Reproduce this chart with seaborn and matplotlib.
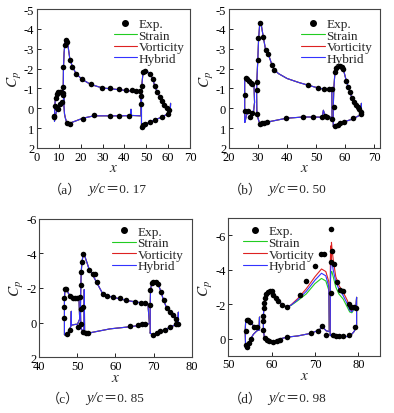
import numpy as np
import pandas as pd
import seaborn as sns
import matplotlib.pyplot as plt
from matplotlib.lines import Line2D

sns.set_style('ticks')
plt.rcParams['font.family'] = ['Liberation Serif', 'Noto Sans CJK SC']
plt.rcParams['mathtext.fontset'] = 'stix'
plt.rcParams['axes.unicode_minus'] = False

GREEN = '#22cc22'
RED = '#dd2222'
BLUE = '#3333ff'

# ---------------- (a) y/c = 0.17 ----------------
a_exp_x = [7.8, 8.0, 8.4, 8.6, 9.1, 9.7, 10.4, 11.1, 11.9, 9.3, 9.8, 10.6, 11.3,
           12.0, 12.0, 12.1, 12.8, 13.3, 13.9, 15.1, 16.2, 17.7, 20.4, 24.6, 29.9, 33.6, 37.5, 40.5, 43.5, 45.5, 47.2,
           13.6, 15.1, 21.2, 26.2, 33.4, 37.5, 42.0,
           47.6, 47.7, 47.9, 48.5, 49.3, 51.7, 52.9, 53.9, 55.0, 56.3, 57.2, 58.2, 59.3, 60.4,
           48.0, 48.6, 49.5, 51.7, 54.0, 57.0, 59.8]
a_exp_cp = [0.45, 0.38, -0.1, -0.5, -0.72, -0.8, -0.84, -0.84, -0.76, -0.02, 0.05, -0.2, -0.3,
            -2.09, -1.08, -0.69, -3.19, -3.44, -3.33, -2.43, -2.09, -1.75, -1.45, -1.2, -1.02, -1.02, -0.97, -0.92, -0.9, -0.88, -0.88,
            0.73, 0.77, 0.52, 0.36, 0.38, 0.38, 0.38,
            -0.22, -0.64, -1.14, -1.85, -1.88, -1.72, -1.5, -1.12, -0.82, -0.57, -0.35, -0.15, 0.0, 0.1,
            0.92, 0.85, 0.8, 0.68, 0.58, 0.45, 0.27]
a_slat_x = [8.0, 8.1, 8.4, 9.0, 9.8, 10.6, 11.4, 12.0, 12.4, 12.6, 11.8, 11.2, 10.5, 9.8, 9.0, 8.4, 8.0]
a_slat_cp = [0.65, 0.0, -0.5, -0.75, -0.85, -0.87, -0.82, -0.7, -0.5, -0.2, -0.3, -0.15, -0.1, 0.05, 0.15, 0.35, 0.65]
a_main_x = [12.6, 12.2, 12.0, 12.1, 12.4, 12.8, 13.2, 13.6, 14.0, 15.0, 16.2, 17.7, 20.4, 24.6, 30.0, 34.0, 38.0,
            42.0, 45.0, 47.4, 47.6, 47.4, 43.2, 43.0, 42.8, 38.0, 33.0, 26.0, 21.0, 15.0, 13.6, 13.0, 12.6]
a_main_cp = [0.3, -0.3, -1.0, -2.0, -2.8, -3.3, -3.5, -3.45, -3.3, -2.5, -2.1, -1.78, -1.47, -1.2, -1.02, -0.98, -0.93,
             -0.88, -0.85, -0.85, 0.35, 0.38, 0.36, 0.05, 0.37, 0.38, 0.38, 0.38, 0.5, 0.75, 0.72, 0.5, 0.3]
a_flap_x = [47.8, 47.8, 48.0, 48.5, 49.5, 50.5, 51.7, 52.9, 53.9, 55.0, 56.3, 57.2, 58.2, 59.3, 60.4, 61.0, 61.1,
            61.0, 59.8, 57.0, 54.0, 51.7, 49.5, 48.2, 47.8]
a_flap_cp = [0.95, -0.3, -1.2, -1.8, -1.9, -1.85, -1.72, -1.5, -1.12, -0.82, -0.57, -0.36, -0.16, 0.0, 0.1, 0.15, -0.25,
             0.18, 0.28, 0.45, 0.58, 0.68, 0.82, 0.93, 0.95]

# ---------------- (b) y/c = 0.50 ----------------
b_exp_x = [25.5, 25.7, 26.3, 27.0, 27.6, 28.0, 25.5, 26.6, 27.2, 28.0,
           29.5, 29.5, 29.8, 29.9, 30.1, 30.7, 31.8, 32.6, 33.5, 34.7, 35.5, 47.3, 50.8, 52.8, 54.5, 55.4,
           30.7, 31.2, 32.0, 33.0, 39.8, 45.6, 49.0, 52.1, 53.1, 53.9, 55.4,
           56.0, 56.5, 57.0, 57.6, 58.2, 58.8, 59.4, 60.4, 61.1, 61.7, 62.3, 63.0, 63.6, 64.3, 64.9, 65.4,
           56.5, 57.4, 58.3, 59.7, 62.8, 65.5]
b_exp_cp = [-0.68, -1.55, -1.45, -1.36, -1.28, -1.22, 0.15, 0.14, 0.42, 0.24,
            -1.3, -0.92, 0.28, -2.44, -3.53, -4.3, -3.58, -2.92, -2.74, -2.2, -1.95, -1.15, -1.02, -0.96, -0.95, -0.95,
            0.8, 0.76, 0.74, 0.68, 0.47, 0.44, 0.44, 0.45, 0.37, 0.45, 0.52,
            -0.05, -1.85, -2.05, -2.12, -2.12, -2.1, -1.98, -1.36, -1.05, -0.8, -0.53, -0.3, -0.18, -0.08, 0.02, 0.2,
            0.9, 0.84, 0.75, 0.68, 0.48, 0.3]
b_slat_x = [25.4, 25.4, 25.7, 26.3, 27.0, 27.6, 28.2, 28.6, 28.8, 28.4, 27.8, 27.3, 26.6, 26.0, 25.5, 25.4]
b_slat_cp = [0.7, -1.5, -1.55, -1.45, -1.36, -1.28, -1.22, -1.2, -0.3, 0.25, 0.3, 0.2, 0.2, 0.35, 0.7, 0.7]
b_main_x = [29.6, 29.5, 29.6, 29.9, 30.2, 30.6, 31.0, 31.8, 32.6, 33.5, 34.7, 35.5, 37.0, 40.0, 44.0, 47.3, 50.8,
            52.8, 54.5, 55.4, 55.5, 53.9, 53.1, 52.5, 52.1, 49.0, 45.6, 39.8, 33.0, 32.0, 31.2, 30.7, 30.2, 29.6]
b_main_cp = [0.3, -0.9, -1.4, -2.4, -3.5, -4.3, -4.3, -3.6, -2.95, -2.75, -2.22, -1.97, -1.75, -1.5, -1.3, -1.16, -1.02,
             -0.96, -0.95, -0.95, 0.45, 0.45, 0.38, 0.1, 0.45, 0.44, 0.44, 0.5, 0.7, 0.76, 0.8, 0.82, 0.6, 0.3]
b_flap_x = [55.9, 55.9, 56.1, 56.5, 57.0, 57.6, 58.4, 59.0, 59.4, 60.4, 61.1, 61.7, 62.3, 63.0, 63.6, 64.3, 64.9,
            65.5, 65.6, 65.6, 65.4, 62.6, 59.7, 58.3, 57.4, 56.5, 55.9]
b_flap_cp = [0.9, 0.0, -1.0, -1.85, -2.05, -2.12, -2.13, -2.08, -1.95, -1.38, -1.05, -0.8, -0.53, -0.3, -0.18, -0.08, 0.02,
             0.12, -0.25, 0.25, 0.32, 0.54, 0.68, 0.76, 0.84, 0.9, 0.9]

# ---------------- (c) y/c = 0.85 ----------------
c_exp_x = [46.7, 47.1, 46.6, 46.6, 46.6, 47.2, 48.1, 48.8, 49.4, 49.8, 48.1, 50.1,
           50.7, 50.9, 50.9, 51.5, 50.9, 50.9, 51.2, 51.5, 53.1, 54.0, 54.6, 55.1, 56.6, 57.7, 59.4, 61.2, 62.8, 65.1, 66.7, 67.7,
           51.5, 52.3, 52.9, 63.8, 66.0, 66.9, 67.7,
           69.1, 69.1, 69.5, 69.9, 70.6, 71.2, 71.9, 72.6, 73.4, 74.3, 75.2, 75.8, 76.3,
           69.8, 70.8, 71.7, 73.0, 74.3, 75.8]
c_exp_cp = [-1.91, -1.91, -1.39, -0.91, -0.27, 0.65, -1.55, -1.43, -1.39, -1.39, 0.45, 0.26,
            -1.49, -0.81, 0.06, -0.91, -2.16, -2.94, -3.52, -3.95, -3.03, -2.8, -2.78, -2.32, -1.64, -1.55, -1.45, -1.39, -1.29, -1.2, -1.14, -1.14,
            0.55, 0.6, 0.6, 0.19, 0.16, 0.08, 0.08,
            -1.0, -1.87, -2.26, -2.32, -2.36, -2.2, -1.78, -1.29, -0.85, -0.62, -0.46, -0.23, 0.06,
            0.7, 0.59, 0.51, 0.4, 0.26, 0.1]
c_slat_x = [46.6, 46.6, 46.7, 47.1, 47.6, 48.1, 48.8, 49.4, 50.0, 50.4, 50.6, 50.0, 49.5, 48.4, 48.4, 48.3, 47.6, 47.2, 46.6]
c_slat_cp = [0.7, -1.2, -1.9, -1.95, -1.7, -1.55, -1.43, -1.39, -1.38, -1.4, -0.2, 0.1, 0.1, 0.15, -0.65, 0.2, 0.55, 0.65, 0.7]
c_main_x = [50.9, 50.8, 50.9, 51.0, 51.2, 51.5, 51.9, 52.6, 53.1, 54.0, 55.1, 56.6, 57.7, 59.4, 61.2, 62.8, 65.1, 66.7,
            68.5, 68.9, 66.0, 63.8, 58.6, 53.0, 52.3, 51.9, 51.8, 51.7, 51.4, 50.9]
c_main_cp = [0.3, -0.8, -2.1, -2.9, -3.5, -3.9, -3.85, -3.4, -3.05, -2.75, -2.3, -1.68, -1.56, -1.45, -1.37, -1.28, -1.2, -1.14,
             -1.1, 0.06, 0.17, 0.24, 0.36, 0.6, 0.62, 0.62, -1.9, 0.55, 0.5, 0.3]
c_flap_x = [69.1, 69.1, 69.2, 69.5, 69.9, 70.6, 71.2, 71.9, 72.6, 73.4, 74.3, 75.2, 75.8, 76.4, 76.5, 76.5, 75.8, 74.3,
            73.0, 71.7, 70.8, 69.8, 69.1]
c_flap_cp = [0.6, -1.0, -1.9, -2.25, -2.33, -2.38, -2.22, -1.8, -1.3, -0.86, -0.62, -0.46, -0.25, 0.0, -0.6, 0.1, 0.12, 0.27,
             0.4, 0.52, 0.6, 0.72, 0.6]

# ---------------- (d) y/c = 0.98 ----------------
d_exp_x = [54.0, 54.2, 54.6, 55.0, 54.0, 54.2, 54.8, 55.2, 56.0, 56.6,
           58.1, 58.1, 58.1, 58.2, 58.3, 58.5, 58.7, 59.2, 59.6, 60.0, 60.4, 61.0, 61.5, 62.5, 63.5, 66.6, 68.0, 70.0, 71.4, 72.1,
           58.5, 58.9, 59.5, 60.4, 61.3, 62.0, 63.5, 69.0, 70.8, 71.6, 72.5,
           73.7, 74.0, 73.6, 74.3, 73.8, 75.1, 75.8, 76.5, 77.8, 78.4, 79.1, 79.5,
           74.2, 74.8, 75.6, 76.5, 77.9, 79.3]
d_exp_cp = [-0.46, -1.05, -1.05, -0.95, 0.35, 0.5, 0.25, 0.04, -0.67, -0.66,
            -0.52, -1.0, -1.29, -1.77, -2.06, -2.35, -2.58, -2.73, -2.79, -2.75, -2.54, -2.35, -2.19, -1.98, -1.83, -2.56, -3.33, -4.2, -4.9, -4.9,
            -0.04, 0.08, 0.15, 0.2, 0.17, 0.1, -0.1, -0.33, -0.45, -0.72, -0.23,
            -6.38, -5.1, -4.45, -4.35, -2.64, -3.3, -2.85, -2.77, -2.0, -1.84, -1.82, -1.77,
            -0.2, -0.17, -0.14, -0.13, -0.2, -0.67]
d_slat_x = [54.0, 53.9, 54.0, 54.3, 54.7, 55.2, 56.0, 56.8, 57.1, 57.2, 57.2, 56.6, 55.8, 55.2, 54.6, 54.2, 54.0]
d_slat_cp = [0.55, -0.4, -1.0, -1.1, -1.05, -0.9, -0.7, -0.63, -0.62, -1.25, -0.5, -0.45, -0.25, 0.0, 0.3, 0.5, 0.55]
d_main_x = [58.1, 58.1, 58.2, 58.4, 58.7, 59.2, 59.6, 60.0, 60.5, 61.0, 61.5, 62.5, 63.5, 64.5, 66.0, 68.0, 70.0, 71.5,
            72.5, 73.2, 73.3, 72.6, 72.0, 71.6, 70.5, 69.0, 66.0, 63.5, 61.5, 60.4, 59.5, 58.8, 58.3, 58.1]
d_main_hybrid = [-0.5, -1.3, -1.8, -2.3, -2.6, -2.75, -2.8, -2.76, -2.55, -2.36, -2.2, -1.98, -1.82, -1.95, -2.25, -2.75,
                 -3.4, -3.8, -3.65, -3.0, -0.4, -0.45, -0.6, -0.62, -0.45, -0.3, -0.15, -0.08, 0.05, 0.18, 0.15, 0.05, -0.1, -0.5]
d_main_vorticity = [-0.5, -1.3, -1.8, -2.3, -2.6, -2.75, -2.8, -2.76, -2.55, -2.36, -2.2, -1.98, -1.82, -1.97, -2.32, -2.9,
                    -3.6, -4.05, -3.9, -3.3, -0.4, -0.45, -0.6, -0.62, -0.45, -0.3, -0.15, -0.08, 0.05, 0.18, 0.15, 0.05, -0.1, -0.5]
d_main_strain = [-0.5, -1.3, -1.8, -2.3, -2.6, -2.75, -2.8, -2.76, -2.55, -2.36, -2.2, -1.98, -1.82, -1.93, -2.2, -2.6,
                 -3.2, -3.5, -3.35, -2.8, -0.4, -0.45, -0.6, -0.62, -0.45, -0.3, -0.15, -0.08, 0.05, 0.18, 0.15, 0.05, -0.1, -0.5]
d_flap_x = [73.5, 73.55, 73.6, 73.65, 73.7, 73.75, 73.8, 73.9, 74.2, 74.8, 75.5, 76.5, 77.5, 78.0, 78.5, 79.0, 79.4,
            79.6, 79.6, 79.0, 78.3, 77.5, 76.5, 75.5, 74.5, 73.8, 73.5]
d_flap_hybrid = [-0.2, -3.2, -3.9, -4.1, -4.3, -4.4, -4.45, -4.5, -4.0, -3.3, -2.9, -2.5, -2.0, -1.65, -1.55, -1.75, -1.7,
                 -2.4, -0.7, -0.4, -0.2, -0.12, -0.1, -0.12, -0.15, -0.15, -0.2]
d_flap_vorticity = [-0.2, -4.4, -5.2, -4.4, -5.4, -4.5, -5.6, -5.3, -4.6, -3.6, -3.1, -2.7, -2.2, -1.8, -1.6, -1.8, -1.75,
                    -2.4, -0.7, -0.4, -0.2, -0.12, -0.1, -0.12, -0.15, -0.15, -0.2]
d_flap_strain = [-0.2, -3.0, -3.5, -3.7, -3.8, -3.85, -3.9, -3.9, -3.6, -3.0, -2.6, -2.3, -1.8, -1.55, -1.5, -1.7, -1.7,
                 -2.4, -0.7, -0.4, -0.2, -0.12, -0.1, -0.12, -0.15, -0.15, -0.2]

panel_tags = ['（a）', '（b）', '（c）', '（d）']
panel_values = ['＝0. 17', '＝0. 50', '＝0. 85', '＝0. 98']

fig = plt.figure(figsize=(3.94, 4.14), dpi=100)
W, H = 394, 414


def add_axes(left, top, right, bottom):
    return fig.add_axes([left / W, 1 - bottom / H, (right - left) / W, (bottom - top) / H])


def caption(x0, y0, tag, value):
    # (tag) y/c = value, in three pieces so y/c can be italic
    fig.text(x0 / W, 1 - y0 / H, tag, ha='left', va='center', fontsize=9.5,
             family=['Liberation Serif', 'Noto Sans CJK SC'])
    fig.text((x0 + 39) / W, 1 - y0 / H, 'y/c', ha='left', va='center', fontsize=10.5,
             style='italic', family='Liberation Serif')
    fig.text((x0 + 57) / W, 1 - y0 / H, value, ha='left', va='center', fontsize=9.5,
             family=['Liberation Serif', 'Noto Sans CJK SC'])


def draw(ax, exp_x, exp_cp, curves, xlim, ylim, xticks, yticks, leg_xy):
    # curves: list of (x, strain, vorticity, hybrid)
    for x, s, v, h in curves:
        sns.lineplot(x=x, y=s, sort=False, estimator=None, color=GREEN, lw=0.8, ax=ax)
        sns.lineplot(x=x, y=v, sort=False, estimator=None, color=RED, lw=0.8, ax=ax)
        sns.lineplot(x=x, y=h, sort=False, estimator=None, color=BLUE, lw=0.8, ax=ax)
    sns.scatterplot(x=exp_x, y=exp_cp, color='black', s=16, linewidth=0, ax=ax, zorder=5)
    ax.set_xlim(*xlim)
    ax.set_ylim(*ylim)
    ax.set_xticks(xticks)
    ax.set_yticks(yticks)
    ax.tick_params(direction='in', length=3, width=0.6, labelsize=9, pad=2, colors='black')
    for sp in ax.spines.values():
        sp.set_color('#444444')
        sp.set_linewidth(0.8)
    ax.set_xlabel('$x$', fontsize=11, labelpad=-1)
    ax.set_ylabel('$C_p$', fontsize=11, labelpad=0)
    handles = [Line2D([], [], marker='o', color='black', ls='none', markersize=4),
               Line2D([], [], color=GREEN, lw=0.8),
               Line2D([], [], color=RED, lw=0.8),
               Line2D([], [], color=BLUE, lw=0.8)]
    ax.legend(handles, ['Exp.', 'Strain', 'Vorticity', 'Hybrid'], loc='upper left',
              bbox_to_anchor=leg_xy, frameon=False, fontsize=9.5, handlelength=1.75,
              handletextpad=0.15, labelspacing=-0.05, borderpad=0, borderaxespad=0)


ax_a = add_axes(37, 10, 190, 149)
draw(ax_a, a_exp_x, a_exp_cp,
     [(a_slat_x, a_slat_cp, a_slat_cp, a_slat_cp),
      (a_main_x, a_main_cp, a_main_cp, a_main_cp),
      (a_flap_x, a_flap_cp, a_flap_cp, a_flap_cp)],
     (0, 70), (2, -5), range(0, 71, 10), range(-5, 3), (0.50, 0.935))
caption(49, 190, panel_tags[0], panel_values[0])

ax_b = add_axes(229, 10, 380, 149)
draw(ax_b, b_exp_x, b_exp_cp,
     [(b_slat_x, b_slat_cp, b_slat_cp, b_slat_cp),
      (b_main_x, b_main_cp, b_main_cp, b_main_cp),
      (b_flap_x, b_flap_cp, b_flap_cp, b_flap_cp)],
     (20, 72), (2, -5), range(20, 71, 10), range(-5, 3), (0.48, 0.935))
caption(229, 190, panel_tags[1], panel_values[1])

ax_c = add_axes(39.3, 219.5, 191.7, 358.3)
draw(ax_c, c_exp_x, c_exp_cp,
     [(c_slat_x, c_slat_cp, c_slat_cp, c_slat_cp),
      (c_main_x, c_main_cp, c_main_cp, c_main_cp),
      (c_flap_x, c_flap_cp, c_flap_cp, c_flap_cp)],
     (40, 80), (2, -6), range(40, 81, 10), range(-6, 3, 2), (0.48, 0.95))
caption(47, 399, panel_tags[2], panel_values[2])

ax_d = add_axes(228.3, 219.3, 380, 356.7)
draw(ax_d, d_exp_x, d_exp_cp,
     [(d_slat_x, d_slat_cp, d_slat_cp, d_slat_cp),
      (d_main_x, d_main_strain, d_main_vorticity, d_main_hybrid),
      (d_flap_x, d_flap_strain, d_flap_vorticity, d_flap_hybrid)],
     (50, 85), (1, -7), range(50, 81, 10), range(-6, 1, 2), (0.10, 0.95))
caption(229, 399, panel_tags[3], panel_values[3])

fig.savefig('out.png', dpi=100)
